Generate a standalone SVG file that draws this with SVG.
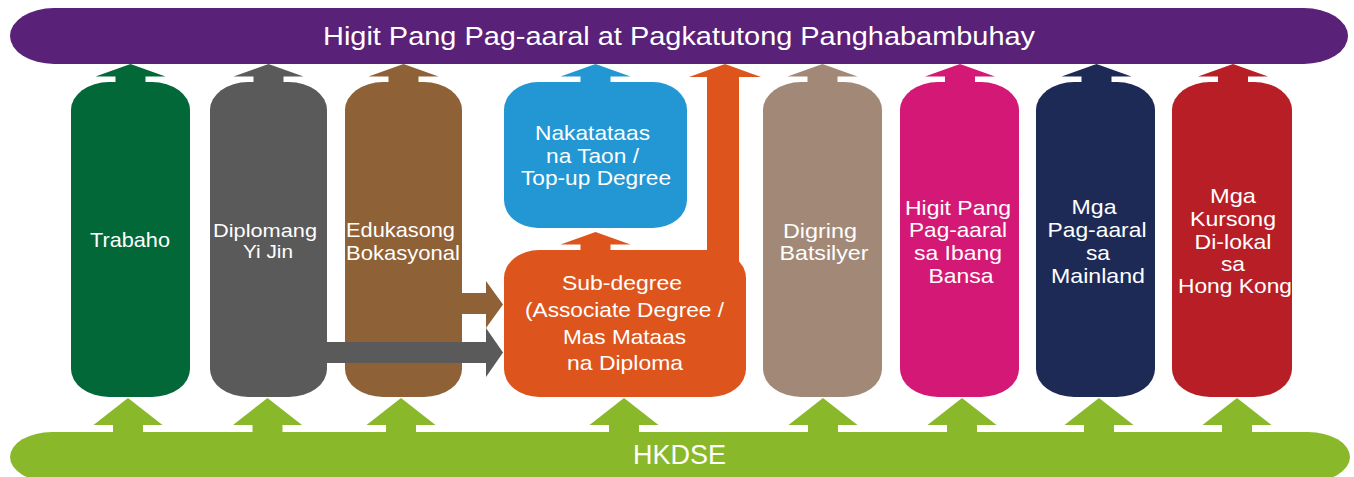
<svg xmlns="http://www.w3.org/2000/svg" xmlns:xlink="http://www.w3.org/1999/xlink" width="1354" height="477" viewBox="0 0 1354 477">
  <style>
    .lbl { font-family: "Liberation Sans", Arial, sans-serif; font-size: 21px; fill: #ffffff; text-anchor: middle; }
    .sm { font-size: 19px; }
    .big { font-size: 26px; }
    .hk { font-size: 27px; }
  </style>
  <defs>
    <path id="upTop" d="M0,0 L35,12.5 L15,12.5 L15,20 L-15,20 L-15,12.5 L-35,12.5 Z"/>
    <path id="upBot" d="M0,0 L34.5,27 L15,27 L15,37 L-15,37 L-15,27 L-34.5,27 Z"/>
  </defs>
  <rect width="1354" height="477" fill="#ffffff"/>

  <g id="lifelong">
    <rect x="10" y="8" width="1338" height="56" rx="44" ry="28" fill="#5a2179"/>
    <text class="lbl big" x="679" y="45" textLength="712" lengthAdjust="spacingAndGlyphs">Higit Pang Pag-aaral at Pagkatutong Panghabambuhay</text>
  </g>

  <g id="hkdse">
    <rect x="10" y="432" width="1340" height="50" rx="42" ry="25" fill="#8ab82b"/>
    <text class="lbl hk" x="679.5" y="464" textLength="93" lengthAdjust="spacingAndGlyphs">HKDSE</text>
  </g>

  <g id="trabaho">
    <rect x="71" y="82" width="119" height="315" rx="38" ry="28" fill="#036838"/>
  </g>
  <g id="yijin">
    <rect x="210" y="82" width="117" height="315" rx="38" ry="28" fill="#5a5a5a"/>
  </g>
  <g id="bokasyonal">
    <rect x="345" y="82" width="117" height="315" rx="38" ry="28" fill="#8f6136"/>
  </g>
  <g id="topup">
    <rect x="504" y="82" width="183" height="146" rx="34" ry="28" fill="#2297d4"/>
  </g>
  <g id="subdegree">
    <rect x="504" y="250" width="242" height="147" rx="35" ry="28" fill="#dd551d"/>
  </g>
  <g id="batsilyer">
    <rect x="763" y="82" width="119" height="315" rx="38" ry="28" fill="#a28977"/>
  </g>
  <g id="ibangbansa">
    <rect x="900" y="82" width="119" height="315" rx="38" ry="28" fill="#d41876"/>
  </g>
  <g id="mainland">
    <rect x="1036" y="82" width="119" height="315" rx="38" ry="28" fill="#1e2a56"/>
  </g>
  <g id="dilokal">
    <rect x="1172" y="82" width="120" height="315" rx="38" ry="28" fill="#b81e25"/>
  </g>

  <g id="connectors">
    <use xlink:href="#upTop" href="#upTop" x="130.5" y="64" fill="#036838"/>
    <use xlink:href="#upTop" href="#upTop" x="268.5" y="64" fill="#5a5a5a"/>
    <use xlink:href="#upTop" href="#upTop" x="403.5" y="64" fill="#8f6136"/>
    <use xlink:href="#upTop" href="#upTop" x="595.5" y="64" fill="#2297d4"/>
    <use xlink:href="#upTop" href="#upTop" x="822.5" y="64" fill="#a28977"/>
    <use xlink:href="#upTop" href="#upTop" x="960" y="64" fill="#d41876"/>
    <use xlink:href="#upTop" href="#upTop" x="1096.5" y="64" fill="#1e2a56"/>
    <use xlink:href="#upTop" href="#upTop" x="1233" y="64" fill="#b81e25"/>
    <path d="M725,64 L761,77 L739,77 L739,272 L707,272 L707,77 L689,77 Z" fill="#dd551d"/>
    <use xlink:href="#upTop" href="#upTop" x="595.5" y="232" fill="#dd551d"/>
    <path d="M455,293 L486,293 L486,281 L503,304.5 L486,328 L486,314 L455,314 Z" fill="#8f6136"/>
    <path d="M320,342 L486,342 L486,328 L503,352.5 L486,377 L486,363 L320,363 Z" fill="#5a5a5a"/>
    <use xlink:href="#upBot" href="#upBot" x="128" y="398" fill="#8ab82b"/>
    <use xlink:href="#upBot" href="#upBot" x="267.5" y="398" fill="#8ab82b"/>
    <use xlink:href="#upBot" href="#upBot" x="401" y="398" fill="#8ab82b"/>
    <use xlink:href="#upBot" href="#upBot" x="624" y="398" fill="#8ab82b"/>
    <use xlink:href="#upBot" href="#upBot" x="823" y="398" fill="#8ab82b"/>
    <use xlink:href="#upBot" href="#upBot" x="962" y="398" fill="#8ab82b"/>
    <use xlink:href="#upBot" href="#upBot" x="1099" y="398" fill="#8ab82b"/>
    <use xlink:href="#upBot" href="#upBot" x="1237" y="398" fill="#8ab82b"/>
  </g>

  <g id="labels">
    <text class="lbl" x="130" y="247" textLength="80" lengthAdjust="spacingAndGlyphs">Trabaho</text>
    <text class="lbl sm" x="265" y="237" textLength="104" lengthAdjust="spacingAndGlyphs">Diplomang</text>
    <text class="lbl sm" x="268" y="258" textLength="50" lengthAdjust="spacingAndGlyphs">Yi Jin</text>
    <text class="lbl" x="400.5" y="237" textLength="109" lengthAdjust="spacingAndGlyphs">Edukasong</text>
    <text class="lbl" x="403" y="260" textLength="114" lengthAdjust="spacingAndGlyphs">Bokasyonal</text>
    <text class="lbl" x="592.5" y="140" textLength="115" lengthAdjust="spacingAndGlyphs">Nakatataas</text>
    <text class="lbl" x="592.5" y="163" textLength="93" lengthAdjust="spacingAndGlyphs">na Taon /</text>
    <text class="lbl" x="596" y="185" textLength="150" lengthAdjust="spacingAndGlyphs">Top-up Degree</text>
    <text class="lbl" x="622" y="290" textLength="120" lengthAdjust="spacingAndGlyphs">Sub-degree</text>
    <text class="lbl" x="624.5" y="317" textLength="199" lengthAdjust="spacingAndGlyphs">(Associate Degree /</text>
    <text class="lbl" x="624.5" y="344" textLength="123" lengthAdjust="spacingAndGlyphs">Mas Mataas</text>
    <text class="lbl" x="625" y="370" textLength="116" lengthAdjust="spacingAndGlyphs">na Diploma</text>
    <text class="lbl" x="820" y="238" textLength="74" lengthAdjust="spacingAndGlyphs">Digring</text>
    <text class="lbl" x="824" y="260" textLength="89" lengthAdjust="spacingAndGlyphs">Batsilyer</text>
    <text class="lbl" x="958" y="215" textLength="106" lengthAdjust="spacingAndGlyphs">Higit Pang</text>
    <text class="lbl" x="958" y="237" textLength="98" lengthAdjust="spacingAndGlyphs">Pag-aaral</text>
    <text class="lbl" x="958" y="260" textLength="88" lengthAdjust="spacingAndGlyphs">sa Ibang</text>
    <text class="lbl" x="961" y="283" textLength="65" lengthAdjust="spacingAndGlyphs">Bansa</text>
    <text class="lbl" x="1094" y="214" textLength="45" lengthAdjust="spacingAndGlyphs">Mga</text>
    <text class="lbl" x="1097" y="237" textLength="99" lengthAdjust="spacingAndGlyphs">Pag-aaral</text>
    <text class="lbl" x="1098" y="260" textLength="24" lengthAdjust="spacingAndGlyphs">sa</text>
    <text class="lbl" x="1098" y="283" textLength="94" lengthAdjust="spacingAndGlyphs">Mainland</text>
    <text class="lbl" x="1233" y="203" textLength="46" lengthAdjust="spacingAndGlyphs">Mga</text>
    <text class="lbl" x="1233" y="226" textLength="86" lengthAdjust="spacingAndGlyphs">Kursong</text>
    <text class="lbl" x="1233" y="249" textLength="77" lengthAdjust="spacingAndGlyphs">Di-lokal</text>
    <text class="lbl" x="1233" y="271" textLength="24" lengthAdjust="spacingAndGlyphs">sa</text>
    <text class="lbl" x="1235" y="293" textLength="114" lengthAdjust="spacingAndGlyphs">Hong Kong</text>
  </g>
</svg>
